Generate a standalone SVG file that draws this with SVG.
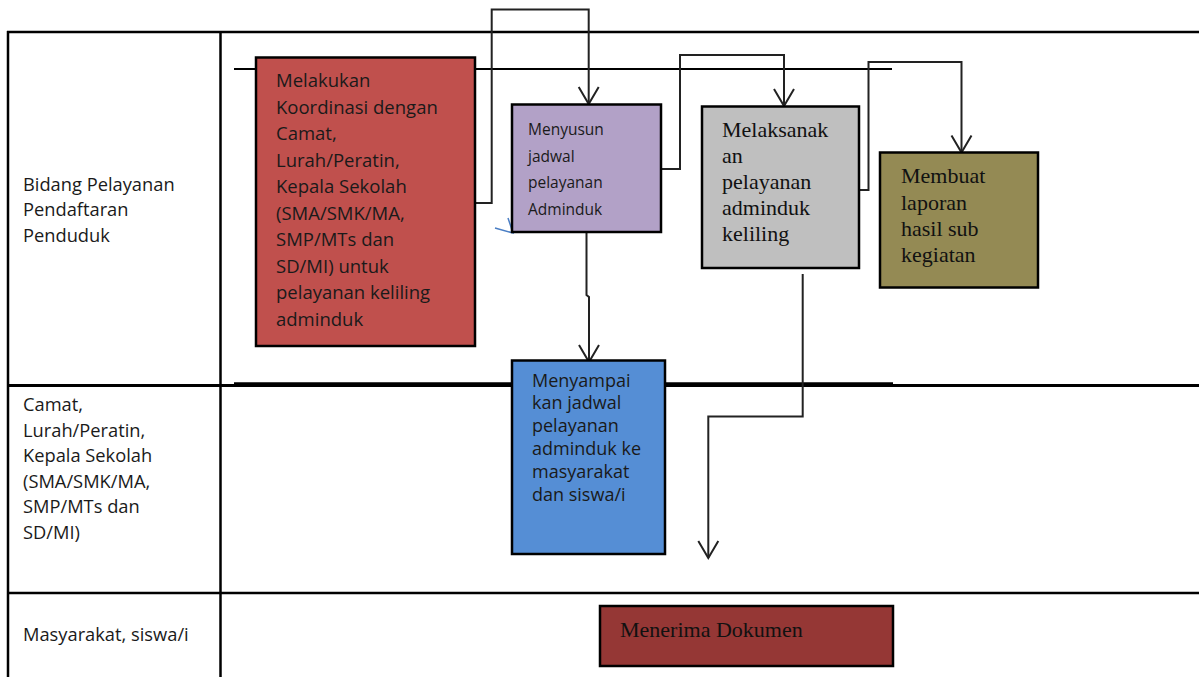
<svg xmlns="http://www.w3.org/2000/svg" width="1199" height="677" viewBox="0 0 1199 677">
<defs>
<style>
.grid{stroke:#000;fill:none}
.box{stroke:#000;stroke-width:2.5}
.conn{stroke:#222;stroke-width:2;fill:none}
.sans{font-family:"Open Sans","Noto Sans","DejaVu Sans",sans-serif;fill:#1a1a1a}
.serif{font-family:"Liberation Serif","Times New Roman",serif;fill:#111}
.lbl{font-size:18.3px}
</style>
<marker id="arr" markerUnits="userSpaceOnUse" markerWidth="24" markerHeight="26" refX="0" refY="0" viewBox="-20 -13 22 26" orient="auto" overflow="visible">
<path d="M-17,-10 L0,0 L-17,10" fill="none" stroke="#222" stroke-width="2"/>
</marker>
</defs>
<rect width="1199" height="677" fill="#fff"/>
<g id="table">
<line class="grid" x1="7" y1="32" x2="1199" y2="32" stroke-width="2.5"/>
<line class="grid" x1="8" y1="31" x2="8" y2="677" stroke-width="2.5"/>
<line class="grid" x1="220.5" y1="31" x2="220.5" y2="677" stroke-width="2.5"/>
<line class="grid" x1="7" y1="385.5" x2="1199" y2="385.5" stroke-width="3"/>
<line class="grid" x1="7" y1="593" x2="1199" y2="593" stroke-width="2.5"/>
<line class="grid" x1="234" y1="69" x2="892" y2="69" stroke-width="2"/>
<line class="grid" x1="234" y1="384" x2="893" y2="384" stroke-width="3.5"/>
</g>
<g id="lane-labels" class="sans lbl">
<text x="23" y="190.5">Bidang Pelayanan</text>
<text x="23" y="216">Pendaftaran</text>
<text x="23" y="241.5">Penduduk</text>
<text x="23" y="411">Camat,</text>
<text x="23" y="436.5">Lurah/Peratin,</text>
<text x="23" y="462">Kepala Sekolah</text>
<text x="23" y="487.5">(SMA/SMK/MA,</text>
<text x="23" y="513">SMP/MTs dan</text>
<text x="23" y="538.5">SD/MI)</text>
<text x="23" y="641">Masyarakat, siswa/i</text>
</g>
<g id="connectors">
<polyline class="conn" points="475,203 491.7,203 491.7,9.5 588.7,9.5 588.7,104" marker-end="url(#arr)"/>
<polyline class="conn" points="586.5,228 586.5,295 589,297 589,362" marker-end="url(#arr)"/>
<polyline class="conn" points="657,169 680,169 680,55 784,55 784,106" marker-end="url(#arr)"/>
<polyline class="conn" points="856,190 868.5,190 868.5,62 961.5,62 961.5,152.5" marker-end="url(#arr)"/>
<polyline class="conn" points="802.7,274 802.7,416.5 708.3,416.5 708.3,558" marker-end="url(#arr)"/>
<polyline points="495,228 513,233 508,218" fill="none" stroke="#4a7ec4" stroke-width="1.5"/>
</g>
<g id="node-koordinasi">
<rect class="box" x="256" y="57.5" width="219" height="288.5" fill="#C0504D"/>
<g class="sans" font-size="18.5">
<text x="276" y="87">Melakukan</text>
<text x="276" y="113.5">Koordinasi dengan</text>
<text x="276" y="140">Camat,</text>
<text x="276" y="166.5">Lurah/Peratin,</text>
<text x="276" y="193">Kepala Sekolah</text>
<text x="276" y="219.5">(SMA/SMK/MA,</text>
<text x="276" y="246">SMP/MTs dan</text>
<text x="276" y="272.5">SD/MI) untuk</text>
<text x="276" y="299">pelayanan keliling</text>
<text x="276" y="325.5">adminduk</text>
</g>
</g>
<g id="node-menyusun">
<rect class="box" x="512" y="104.5" width="149" height="127.5" fill="#B2A1C7"/>
<g class="sans" font-size="15.5">
<text x="528" y="135">Menyusun</text>
<text x="528" y="161.5">jadwal</text>
<text x="528" y="188">pelayanan</text>
<text x="528" y="214.5">Adminduk</text>
</g>
</g>
<g id="node-melaksanakan">
<rect class="box" x="702" y="106.5" width="157" height="161.5" fill="#BFBFBF"/>
<g class="serif" font-size="22">
<text x="722" y="137">Melaksanak</text>
<text x="722" y="163">an</text>
<text x="722" y="189">pelayanan</text>
<text x="722" y="215">adminduk</text>
<text x="722" y="241">keliling</text>
</g>
</g>
<g id="node-laporan">
<rect class="box" x="880" y="152.5" width="158" height="135" fill="#948A54"/>
<g class="serif" font-size="22">
<text x="901" y="183">Membuat</text>
<text x="901" y="209.5">laporan</text>
<text x="901" y="236">hasil sub</text>
<text x="901" y="262">kegiatan</text>
</g>
</g>
<g id="node-menyampaikan">
<rect class="box" x="512" y="360.5" width="153" height="193.5" fill="#558ED5"/>
<g class="sans" font-size="18">
<text x="532" y="386.5">Menyampai</text>
<text x="532" y="409">kan jadwal</text>
<text x="532" y="432">pelayanan</text>
<text x="532" y="455">adminduk ke</text>
<text x="532" y="478">masyarakat</text>
<text x="532" y="500.5">dan siswa/i</text>
</g>
</g>
<g id="node-menerima">
<rect class="box" x="600" y="606" width="293" height="60" fill="#953735"/>
<text class="serif" x="620" y="637" font-size="22">Menerima Dokumen</text>
</g>
</svg>
